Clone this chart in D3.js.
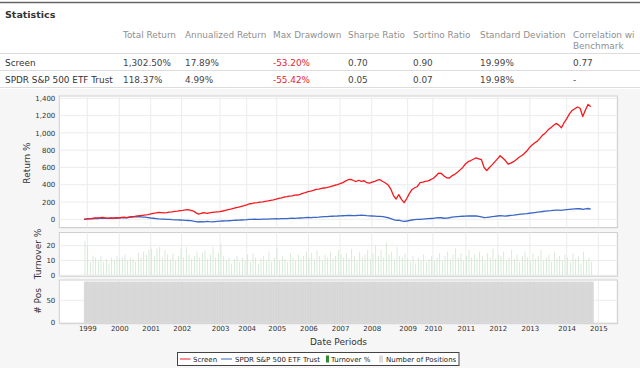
<!DOCTYPE html>
<html><head><meta charset="utf-8">
<script src="https://cdn.jsdelivr.net/npm/d3@7"></script>
<style>body{margin:0;background:#fff}svg{display:block}</style>
</head><body><svg id="c" width="640" height="368"></svg>
<script>
// ---------- DATA ----------
const statCols = ["Total Return","Annualized Return","Max Drawdown","Sharpe Ratio","Sortino Ratio","Standard Deviation","Correlation wi"];
const statCols2 = ["","","","","","","Benchmark"];
const statRowNames = ["Screen","SPDR S&P 500 ETF Trust"];
const statScreen = ["1,302.50%","17.89%","-53.20%","0.70","0.90","19.99%","0.77"];
const statSpy = ["118.37%","4.99%","-55.42%","0.05","0.07","19.98%","-"];
const negativeCol = 2;

const seriesNames = ["Screen","SPDR S&P 500 ETF Trust","Turnover %","Number of Positions"];
const startYear = 1998.9;          // first monthly period
const periodsPerYear = 12;

const screenRet = [
 0,4,7,10,15,17,19,22,16,13,17,14,
 19,16,22,24,20,27,30,33,38,42,46,50,
 55,62,69,74,80,78,74,77,84,87,92,95,
 101,104,108,111,104,95,74,60,70,77,68,74,
 80,83,86,89,96,104,112,119,127,135,142,150,
 158,167,180,183,189,193,199,202,208,212,220,226,
 234,243,249,258,263,269,272,279,281,288,299,310,
 320,325,334,346,349,357,362,366,375,385,394,402,
 412,425,442,458,463,449,437,452,440,446,424,418,
 431,440,453,458,437,420,398,350,275,235,285,230,
 192,240,300,345,365,380,425,430,440,445,460,475,
 505,535,530,500,480,478,505,520,545,572,600,640,
 667,680,695,710,700,690,600,565,600,630,665,700,
 735,710,680,638,650,667,690,715,735,758,790,830,
 860,885,905,940,975,1000,1035,1060,1085,1110,1090,1060,
 1120,1165,1220,1260,1280,1300,1285,1190,1265,1330,1302
];
const spyRet = [
 0,2,4,6,8,9,10,12,10,11,13,12,
 14,13,17,19,16,21,25,27,28,30,26,24,
 20,15,12,8,4,1,2,-2,-1,-4,-6,-7,
 -8,-9,-12,-14,-16,-22,-26,-31,-27,-30,-25,-28,
 -30,-27,-24,-22,-20,-18,-17,-15,-13,-11,-10,-8,
 -7,-5,-2,0,1,0,-2,1,3,2,4,5,
 6,5,7,7,8,10,12,11,13,15,17,19,
 21,20,22,23,25,28,30,31,33,35,37,38,
 40,41,42,44,45,43,44,46,47,45,42,40,
 38,36,34,33,30,24,18,8,-4,-12,-10,-18,
 -23,-20,-14,-8,-5,-2,0,3,5,7,9,10,
 16,20,18,12,14,18,24,27,30,33,35,37,
 38,38,39,38,35,28,20,22,26,30,34,38,
 42,40,37,41,45,48,52,56,60,63,66,70,
 74,78,82,86,90,94,97,100,104,107,105,103,
 108,111,114,117,120,123,122,116,121,125,118
];
const turnover = [
 23,20,9,13,12,10,13,9,11,8,12,10,
 13,11,12,14,10,12,11,9,15,12,16,14,
 17,18,13,18,19,12,17,14,11,15,10,13,
 18,12,19,14,11,13,16,12,15,17,11,14,
 19,12,15,21,13,10,12,8,11,13,9,12,
 10,14,9,15,12,8,11,13,10,16,9,12,
 18,10,13,11,9,15,12,10,14,11,13,16,
 12,15,11,17,13,10,14,12,16,11,13,17,
 14,12,15,11,18,13,10,16,12,14,17,11,
 15,20,13,17,12,22,14,16,11,19,13,12,
 15,11,9,13,8,12,10,14,9,11,13,10,
 12,15,10,13,16,11,14,18,12,15,10,13,
 17,12,14,11,16,13,10,15,12,18,11,14,
 13,16,10,12,17,11,14,9,13,16,12,10,
 15,11,13,17,10,12,14,9,16,11,13,10,
 14,12,9,15,11,13,8,16,10,12,9
];
const positions = [
 91,91,91,91,91,91,91,91,91,91,91,91,
 91,91,91,91,91,91,91,91,91,91,91,91,
 91,91,91,91,91,91,91,91,91,91,91,91,
 91,91,91,91,91,91,91,91,91,91,91,91,
 91,91,91,91,91,91,91,91,91,91,91,91,
 91,91,91,91,91,91,91,91,91,91,91,91,
 91,91,91,91,91,91,91,91,91,91,91,91,
 91,91,91,91,91,91,91,91,91,91,91,91,
 91,91,91,91,91,91,91,91,91,91,91,91,
 91,91,91,91,91,91,91,91,91,91,91,91,
 91,91,91,91,91,91,91,91,91,91,91,91,
 91,91,91,91,91,91,91,91,91,91,91,91,
 91,91,91,91,91,91,91,91,91,91,91,91,
 91,91,91,91,91,91,91,91,91,91,91,91,
 91,91,91,91,91,91,91,91,91,91,91,91,
 91,91,91,91,91,91,91,91,91,91,91
];
const xTickPos = [1999.0,2000.0,2000.98,2001.95,2003.15,2003.98,2004.92,2005.91,2006.9,2007.89,2009.01,2009.8,2010.83,2011.83,2012.83,2013.98,2014.97];
const xTickLabels = ["1999","2000","2001","2002","2003","2004","2005","2006","2007","2008","2009","2010","2011","2012","2013","2014","2015"];
const returnTicks = [0,200,400,600,800,1000,1200,1400];
const turnoverTicks = [0,10,20];
const posTicks = [0,50];

// ---------- DRAW ----------
const svg = d3.select("#c");
const FONT = "DejaVu Sans, Verdana, sans-serif";
const colScreen = "#f5191e", colSpy = "#3a66c4", colTurn = "#2e8b2e", colPos = "#d9d9d9";

// table
svg.append("rect").attr("x",0).attr("y",0).attr("width",640).attr("height",89).attr("fill","#fff");
svg.append("line").attr("x1",0).attr("x2",640).attr("y1",2.5).attr("y2",2.5).attr("stroke","#666").attr("stroke-width",1.5);
svg.append("text").attr("x",5).attr("y",17.5).attr("font-family",FONT).attr("font-weight","bold")
  .attr("font-size",9.5).attr("fill","#333").text("Statistics");
const colX = [123,185,273,348,413,480,573];
const tbl = svg.append("g").attr("font-family",FONT).attr("font-size",8.9);
statCols.forEach((c,i)=>{
  tbl.append("text").attr("x",colX[i]).attr("y",37.5).attr("fill","#8f8f8f").text(c);
  if (statCols2[i]) tbl.append("text").attr("x",colX[i]).attr("y",48.5).attr("fill","#8f8f8f").text(statCols2[i]);
});
[53.5,70.5,87.5].forEach(y=>svg.append("line").attr("x1",0).attr("x2",640).attr("y1",y).attr("y2",y).attr("stroke","#dcdcdc"));
[statScreen,statSpy].forEach((row,r)=>{
  const y = 65.5 + r*17;
  tbl.append("text").attr("x",5).attr("y",y).attr("fill","#333").text(statRowNames[r]);
  row.forEach((v,i)=>tbl.append("text").attr("x",colX[i]).attr("y",y)
    .attr("fill", i===negativeCol ? "#e8232a" : "#444").text(v));
});

// chart background
svg.append("rect").attr("x",0).attr("y",89).attr("width",640).attr("height",279).attr("fill","#f6f6f6");

const L = 59.3, R = 617.3;
const x = d3.scaleLinear().domain([1998.125, 2015.5625]).range([L, R]);
const tOf = i => startYear + i/periodsPerYear;

const panels = [
  {top:96, bottom:227.5, domain:[-95,1427], ticks:returnTicks, fmt:d3.format(",")},
  {top:232.5, bottom:276, domain:[-0.5,28.9], ticks:turnoverTicks, fmt:d3.format("d")},
  {top:280, bottom:323.4, domain:[-1.6,95.3], ticks:posTicks, fmt:d3.format("d")}
];
panels.forEach(p=>{
  p.y = d3.scaleLinear().domain(p.domain).range([p.bottom,p.top]);
  const g = svg.append("g");
  g.append("rect").attr("x",L+1).attr("y",p.top+1).attr("width",R-L).attr("height",p.bottom-p.top)
    .attr("fill","#e4e4e4");
  g.append("rect").attr("x",L).attr("y",p.top).attr("width",R-L).attr("height",p.bottom-p.top)
    .attr("fill","#fff").attr("stroke","#cfcfcf");
  g.selectAll(".hg").data(p.ticks).join("line").attr("x1",L).attr("x2",R)
    .attr("y1",d=>p.y(d)).attr("y2",d=>p.y(d)).attr("stroke","#ececec");
  g.selectAll(".vg").data(xTickPos).join("line").attr("y1",p.top).attr("y2",p.bottom)
    .attr("x1",d=>x(d)).attr("x2",d=>x(d)).attr("stroke","#ececec");
  const ax = d3.axisLeft(p.y).tickValues(p.ticks).tickFormat(p.fmt).tickSize(0).tickPadding(4);
  const a = svg.append("g").attr("transform",`translate(${L},0)`).call(ax);
  a.select(".domain").remove();
  a.selectAll("text").attr("font-family",FONT).attr("font-size",7).attr("fill","#333");
  p.g = g;
});

// pos bars
const step = x(tOf(1)) - x(tOf(0));
panels[2].g.selectAll(".pb").data(positions).join("rect")
  .attr("x",(d,i)=>x(tOf(i))).attr("width",step+0.2)
  .attr("y",d=>panels[2].y(d)).attr("height",d=>panels[2].y(0)-panels[2].y(d))
  .attr("fill",colPos).attr("stroke","#d2d2d2").attr("stroke-width",0.4);

// turnover bars
panels[1].g.selectAll(".tb").data(turnover).join("rect")
  .attr("x",(d,i)=>x(tOf(i))+0.5).attr("width",0.8)
  .attr("y",d=>panels[1].y(d)).attr("height",d=>panels[1].y(0)-panels[1].y(d))
  .attr("fill","#cfe6cf");

// lines
const line = d3.line().x((d,i)=>x(tOf(i))).y(d=>panels[0].y(d));
panels[0].g.append("path").datum(spyRet).attr("d",line).attr("fill","none")
  .attr("stroke",colSpy).attr("stroke-width",1.3);
panels[0].g.append("path").datum(screenRet).attr("d",line).attr("fill","none")
  .attr("stroke",colScreen).attr("stroke-width",1.3).attr("stroke-linejoin","round");

// x axis labels
const xa = svg.append("g").attr("transform","translate(0,326)")
  .call(d3.axisBottom(x).tickValues(xTickPos).tickFormat((d,i)=>xTickLabels[i]).tickSize(0).tickPadding(0));
xa.select(".domain").remove();
xa.selectAll("text").attr("font-family",FONT).attr("font-size",7).attr("fill","#333");

// axis titles
const T = (txt,xx,yy,size,rot)=>svg.append("text").attr("transform",`translate(${xx},${yy}) rotate(${rot||0})`)
  .attr("text-anchor","middle").attr("font-family",FONT).attr("font-size",size).attr("fill","#333").text(txt);
T("Return %",30,163,9,-90);
T("Turnover %",40.5,254,9,-90);
T("# Pos",41,301,9,-90);
T("Date Periods",338.5,345,9);

// legend
const lg = svg.append("g").attr("font-family",FONT).attr("font-size",7).attr("fill","#222");
lg.append("rect").attr("x",177.5).attr("y",352.5).attr("width",281.5).attr("height",13)
  .attr("fill","#fff").attr("stroke","#444");
const ly = 359;
lg.append("line").attr("x1",180).attr("x2",190.5).attr("y1",ly).attr("y2",ly).attr("stroke",colScreen);
lg.append("text").attr("x",193).attr("y",ly+2.5).text(seriesNames[0]);
lg.append("line").attr("x1",221).attr("x2",232).attr("y1",ly).attr("y2",ly).attr("stroke",colSpy);
lg.append("text").attr("x",235).attr("y",ly+2.5).text(seriesNames[1]);
lg.append("rect").attr("x",326).attr("y",ly-3.5).attr("width",3).attr("height",7).attr("fill",colTurn);
lg.append("text").attr("x",331).attr("y",ly+2.5).text(seriesNames[2]);
lg.append("rect").attr("x",379).attr("y",ly-3.5).attr("width",4).attr("height",7).attr("fill","#dddddd");
lg.append("text").attr("x",386).attr("y",ly+2.5).text(seriesNames[3]);
</script></body></html>
